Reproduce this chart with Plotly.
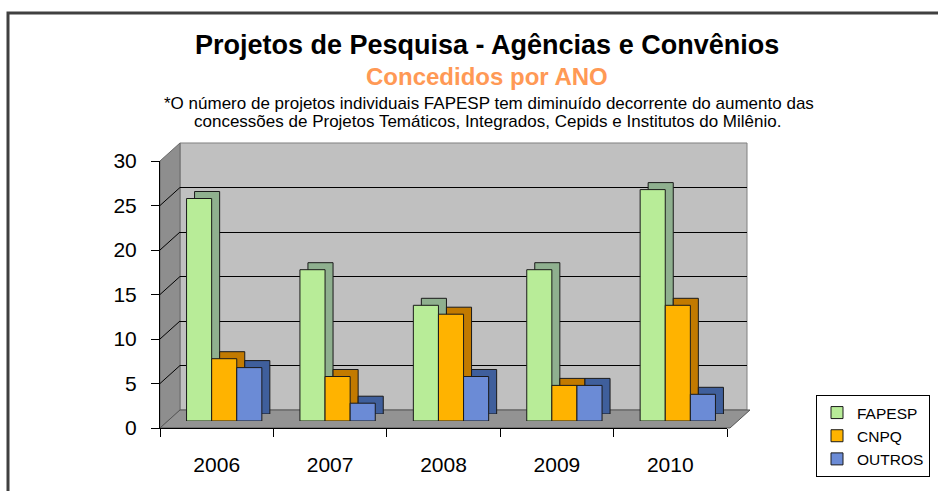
import plotly.graph_objects as go

# ---------------- data ----------------
years = ["2006", "2007", "2008", "2009", "2010"]
fapesp = [25, 17, 13, 17, 26]
cnpq = [7, 5, 12, 4, 13]
outros = [6, 2, 5, 4, 3]
series_names = ["FAPESP", "CNPQ", "OUTROS"]
y_tick_vals = [0, 5, 10, 15, 20, 25, 30]

title_text = "Projetos de Pesquisa - Agências e Convênios"
subtitle_text = "Concedidos por ANO"
note_line1 = "*O número de projetos individuais FAPESP tem diminuído decorrente do aumento das"
note_line2 = "concessões de Projetos Temáticos, Integrados, Cepids e Institutos do Milênio."

# ---------------- styling / geometry ----------------
W, H = 938, 491
FONT = "Liberation Sans, Arial, sans-serif"


def fx(p):
    return p / W


def fy(p):
    return 1 - p / H


FX0, FX1 = 160, 727        # front x extent (px)
FY0, FY30 = 428, 161       # front y of value 0 and 30 (px)
DX, DY = 20, 18            # depth offset of back wall
BX, BY = 7.5, 7            # offset of bar front faces
SX, SY = 8, 7              # bar depth (side / top faces)
YMAX = 30

face_colors = ["#B8EC98", "#FFB300", "#6B8BD6"]
side_colors = ["#8FB08F", "#C27A00", "#3F5F9C"]
values = [fapesp, cnpq, outros]

fig = go.Figure()

# invisible helper trace for back-wall grid subplot
fig.add_trace(go.Scatter(x=years, y=fapesp, xaxis="x", yaxis="y", mode="markers",
                         marker=dict(opacity=0), showlegend=False, hoverinfo="skip"))

# bar depth (side/top faces) drawn first
for name, vals, col in zip(series_names, values, side_colors):
    fig.add_trace(go.Bar(x=years, y=vals, name=name, xaxis="x2", yaxis="y2",
                         marker=dict(color=col, line=dict(color="#1a1a1a", width=1)),
                         showlegend=False, hoverinfo="skip"))

# bar front faces
for name, vals, col in zip(series_names, values, face_colors):
    fig.add_trace(go.Bar(x=years, y=vals, name=name, xaxis="x3", yaxis="y3",
                         marker=dict(color=col, line=dict(color="#1a1a1a", width=1))))

# invisible helper trace for the front (visible) axes
fig.add_trace(go.Scatter(x=years, y=fapesp, xaxis="x4", yaxis="y4", mode="markers",
                         marker=dict(opacity=0), showlegend=False, hoverinfo="skip"))

cat_range = [-0.5, len(years) - 0.5]
hidden_x = dict(type="category", range=cat_range, visible=False, fixedrange=True,
                automargin=False)
hidden_y = dict(range=[0, YMAX], visible=False, fixedrange=True, automargin=False)

fig.update_layout(
    width=W, height=H, autosize=False,
    margin=dict(l=0, r=0, t=0, b=0, pad=0, autoexpand=False),
    paper_bgcolor="white", plot_bgcolor="rgba(0,0,0,0)",
    font=dict(family=FONT, color="black"),
    barmode="group", bargap=0.336, bargroupgap=0,
    showlegend=True,
    legend=dict(x=fx(816), y=fy(395), xanchor="left", yanchor="top",
                bordercolor="black", borderwidth=1, bgcolor="white",
                font=dict(family=FONT, size=15.5, color="black"),
                itemwidth=30, traceorder="normal", tracegroupgap=0),
    # back wall grid
    xaxis=dict(hidden_x, domain=[fx(FX0 + DX), fx(FX1 + DX)], anchor="y"),
    yaxis=dict(range=[0, YMAX], domain=[fy(FY0 - DY), fy(FY30 - DY)], anchor="x",
               showgrid=True, gridcolor="#000000", gridwidth=1,
               tickvals=y_tick_vals[1:-1], automargin=False,
               showticklabels=False, ticks="", zeroline=False, showline=False,
               fixedrange=True),
    # bar depth
    xaxis2=dict(hidden_x, domain=[fx(FX0 + BX + SX), fx(FX1 + BX + SX)], anchor="y2"),
    yaxis2=dict(hidden_y, domain=[fy(FY0 - BY - SY), fy(FY30 - BY - SY)], anchor="x2"),
    # bar faces
    xaxis3=dict(hidden_x, domain=[fx(FX0 + BX), fx(FX1 + BX)], anchor="y3"),
    yaxis3=dict(hidden_y, domain=[fy(FY0 - BY), fy(FY30 - BY)], anchor="x3"),
    # visible front axes
    xaxis4=dict(type="category", range=cat_range, domain=[fx(FX0), fx(FX1)], anchor="y4",
                tickson="boundaries", ticks="outside", ticklen=8, tickcolor="black",
                showline=True, linecolor="black", linewidth=1, showgrid=False,
                tickfont=dict(family=FONT, size=21, color="black"),
                ticklabelstandoff=18, fixedrange=True, automargin=False),
    yaxis4=dict(range=[0, YMAX], tickvals=y_tick_vals, domain=[fy(FY0), fy(FY30)],
                anchor="x4", ticks="outside", ticklen=8, tickcolor="black",
                showline=True, linecolor="black", linewidth=1, showgrid=False,
                zeroline=False, tickfont=dict(family=FONT, size=21, color="black"),
                ticklabelstandoff=10, fixedrange=True, automargin=False),
)

# ---------------- decorative 3D walls ----------------
shapes = []


def poly(points, fill, line_col, lw=1):
    path = "M " + " L ".join(f"{fx(x):.5f},{fy(y):.5f}" for x, y in points) + " Z"
    return dict(type="path", path=path, xref="paper", yref="paper", layer="below",
                fillcolor=fill, line=dict(color=line_col, width=lw))


# back wall
shapes.append(poly([(FX0 + DX, FY0 - DY), (FX1 + DX, FY0 - DY),
                    (FX1 + DX, FY30 - DY), (FX0 + DX, FY30 - DY)], "#C0C0C0", "#808080"))
# left wall
shapes.append(poly([(FX0, FY0), (FX0, FY30), (FX0 + DX, FY30 - DY), (FX0 + DX, FY0 - DY)],
                   "#8E8E8E", "#6a6a6a"))
# floor
shapes.append(poly([(FX0, FY0), (FX1 + 3, FY0), (FX1 + DX + 3, FY0 - DY), (FX0 + DX, FY0 - DY)],
                   "#939393", "#555555"))
# diagonal grid lines on the left wall
scale = (FY0 - FY30) / YMAX
for v in y_tick_vals[1:-1]:
    yf = FY0 - v * scale
    shapes.append(dict(type="line", xref="paper", yref="paper", layer="below",
                       x0=fx(FX0), y0=fy(yf), x1=fx(FX0 + DX), y1=fy(yf - DY),
                       line=dict(color="black", width=1)))
# outer chart frame
shapes.append(dict(type="rect", xref="paper", yref="paper", layer="above",
                   x0=fx(8), y0=-0.05, x1=1.05, y1=fy(13),
                   line=dict(color="#404040", width=3), fillcolor="rgba(0,0,0,0)"))
fig.update_layout(shapes=shapes)

# ---------------- titles ----------------
fig.add_annotation(text=f"<b>{title_text}</b>", xref="paper", yref="paper",
                   x=fx(487), y=fy(45), xanchor="center", yanchor="middle", showarrow=False,
                   font=dict(family=FONT, size=27, color="black"))
fig.add_annotation(text=f"<b>{subtitle_text}</b>", xref="paper", yref="paper",
                   x=fx(487), y=fy(76), xanchor="center", yanchor="middle", showarrow=False,
                   font=dict(family=FONT, size=24, color="#FF9955"))
fig.add_annotation(text=note_line1, xref="paper", yref="paper",
                   x=fx(489), y=fy(103), xanchor="center", yanchor="middle", showarrow=False,
                   font=dict(family=FONT, size=17, color="black"))
fig.add_annotation(text=note_line2, xref="paper", yref="paper",
                   x=fx(487), y=fy(121), xanchor="center", yanchor="middle", showarrow=False,
                   font=dict(family=FONT, size=17, color="black"))

page_fix = (
    "document.body.style.margin='0';"
    "document.body.style.padding='0';"
    "document.body.style.overflow='hidden';"
    "document.documentElement.style.overflow='hidden';"
    "var gd=document.getElementById('{plot_id}');"
    "gd.style.position='absolute';gd.style.left='0px';gd.style.top='0px';"
)

fig.write_html("out.html", post_script=page_fix, config={"displayModeBar": False})
